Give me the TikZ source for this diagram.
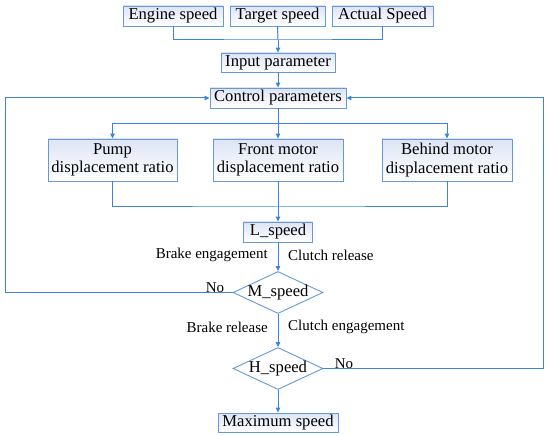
\documentclass[tikz,border=0pt]{standalone}
\usepackage{fontspec}
\setmainfont{Liberation Serif}
\usetikzlibrary{shapes.geometric,arrows.meta}
\definecolor{lineblue}{RGB}{58,133,214}
\definecolor{boxblue}{RGB}{100,155,215}
\definecolor{boxfill}{RGB}{222,228,246}
\begin{document}
\begin{tikzpicture}[x=1pt,y=-1pt,
  box/.style={draw=boxblue,line width=0.9pt,top color=boxfill,bottom color=white,
    inner sep=0pt,font=\fontsize{16.6}{18.5}\selectfont,align=center},
  dia/.style={draw=boxblue,line width=0.9pt,fill=white,shape=diamond,aspect=2.14,
    inner sep=-2pt,minimum width=90pt,minimum height=42pt,font=\fontsize{16.6}{18.5}\selectfont},
  conn/.style={draw=lineblue,line width=1pt},
  arr/.style={conn,-{Triangle[length=5pt,width=4.5pt]}},
  lab/.style={font=\fontsize{15}{17}\selectfont,inner sep=0pt}]
\useasboundingbox (0,0) rectangle (550,436);
% top inputs
\node[box,minimum width=100pt,minimum height=20pt] (eng) at (173,16) {Engine speed};
\node[box,minimum width=95pt,minimum height=20pt] (tgt) at (277.5,16) {Target speed};
\node[box,minimum width=101pt,minimum height=20pt] (act) at (382.5,16) {Actual Speed};
\node[box,minimum width=114pt,minimum height=19pt] (inp) at (278,62.5) {Input parameter};
\node[box,minimum width=136pt,minimum height=20pt] (ctrl) at (278,98) {Control parameters};
\node[box,minimum width=129pt,minimum height=42pt] (pump) at (112.5,160) {Pump\\displacement ratio};
\node[box,minimum width=130pt,minimum height=42pt] (front) at (278,160) {Front motor\\displacement ratio};
\node[box,minimum width=130pt,minimum height=42pt] (behind) at (447,160) {Behind motor\\displacement ratio};
\node[box,minimum width=69pt,minimum height=20pt] (L) at (278,232) {L\_speed};
\node[dia] (M) at (278,292.5) {M\_speed};
\node[dia] (H) at (278,368.5) {H\_speed};
\node[box,minimum width=120pt,minimum height=19pt] (max) at (278,422.5) {Maximum speed};
% coordinates
\coordinate (j1) at (278,40);
\coordinate (j2) at (278,124);
\coordinate (j3) at (278,207);
\coordinate (lb) at (5,292.5);
\coordinate (lt) at (5,98);
\coordinate (rb) at (543,368.5);
\coordinate (rt) at (543,98);
% connectors
\draw[conn] (eng.south) |- (j1) -| (act.south);
\draw[conn] (tgt.south) -- (j1);
\draw[arr] (j1) -- (inp.north);
\draw[arr] (inp.south) -- (ctrl.north);
\draw[conn] (ctrl.south) -- (j2);
\draw[arr] (j2) -| (pump.north);
\draw[arr] (j2) -| (behind.north);
\draw[arr] (j2) -- (front.north);
\draw[conn] (pump.south) |- (j3) -| (behind.south);
\draw[conn] (front.south) -- (j3);
\draw[arr] (j3) -- (L.north);
\draw[arr] (L.south) -- (M.north);
\draw[arr] (M.south) -- (H.north);
\draw[arr] (H.south) -- (max.north);
\draw[arr] (M.west) -- (lb) -- (lt) -- (ctrl.west);
\draw[arr] (H.east) -- (rb) -- (rt) -- (ctrl.east);
% labels
\node[lab,anchor=east] (l1) at (268,255) {Brake engagement};
\node[lab,anchor=west] (l2) at (288,255) {Clutch release};
\node[lab,anchor=east] (l3) at (268,327) {Brake release};
\node[lab,anchor=west] (l4) at (288,327) {Clutch engagement};
\node[lab,anchor=base] (no1) at (215,292) {No};
\node[lab,anchor=base] (no2) at (344,368) {No};
\end{tikzpicture}
\end{document}
